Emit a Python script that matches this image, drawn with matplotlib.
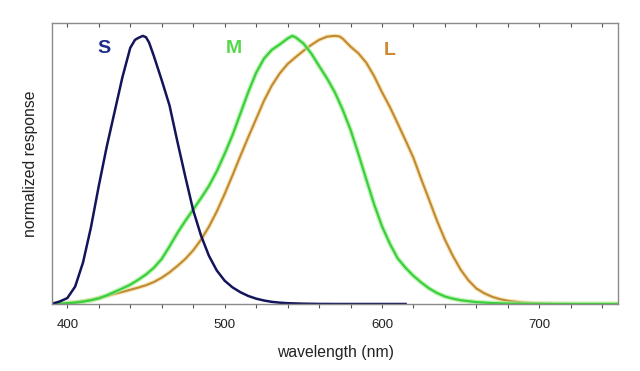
import numpy as np
import matplotlib
matplotlib.use("Agg")
import matplotlib.pyplot as plt
from matplotlib.ticker import MultipleLocator

plt.rcParams['font.family'] = ['Liberation Sans', 'DejaVu Sans']

# S cone
s_nm = [390, 395, 400, 405, 410, 415, 420, 425, 430, 435, 440, 443, 445, 448, 450,
        452, 455, 460, 465, 470, 475, 480, 485, 490, 495, 500, 505, 510, 515, 520,
        525, 530, 535, 540, 550, 560, 570, 615]
s_val = [0.0, 0.009, 0.022, 0.065, 0.155, 0.285, 0.44, 0.585, 0.715, 0.845, 0.955, 0.985, 0.992, 1.0, 0.995,
         0.975, 0.925, 0.835, 0.74, 0.605, 0.475, 0.35, 0.255, 0.18, 0.125, 0.087, 0.062, 0.044, 0.03, 0.02,
         0.013, 0.008, 0.005, 0.003, 0.0012, 0.0003, 0.0, 0.0]

# M cone
m_nm = [390, 395, 400, 405, 410, 415, 420, 425, 430, 435, 440, 445, 450, 455, 460,
        465, 470, 475, 480, 485, 490, 495, 500, 505, 510, 515, 520, 525, 530, 535,
        540, 543, 545, 550, 555, 560, 565, 570, 575, 580, 585, 590, 595, 600, 605,
        610, 615, 620, 625, 630, 635, 640, 645, 650, 660, 670, 680, 690, 700, 710, 750]
m_val = [0.0, 0.001, 0.003, 0.005, 0.009, 0.014, 0.021, 0.032, 0.045, 0.058, 0.072, 0.09, 0.11, 0.135, 0.168,
         0.215, 0.265, 0.31, 0.352, 0.395, 0.44, 0.495, 0.56, 0.63, 0.71, 0.79, 0.862, 0.915, 0.948, 0.968,
         0.99, 1.0, 0.995, 0.972, 0.935, 0.888, 0.842, 0.79, 0.725, 0.65, 0.56, 0.465, 0.372, 0.29, 0.225,
         0.17, 0.135, 0.105, 0.08, 0.058, 0.041, 0.028, 0.02, 0.014, 0.007, 0.0035, 0.0017, 0.0008, 0.0003, 0.0, 0.0]

# L cone
l_nm = [390, 395, 400, 405, 410, 415, 420, 425, 430, 435, 440, 445, 450, 455, 460,
        465, 470, 475, 480, 485, 490, 495, 500, 505, 510, 515, 520, 525, 530, 535,
        540, 545, 550, 555, 560, 565, 570, 573, 575, 580, 585, 590, 595, 600, 605,
        610, 615, 620, 625, 630, 635, 640, 645, 650, 655, 660, 665, 670, 675, 680,
        690, 700, 710, 720, 730, 750]
l_val = [0.0, 0.001, 0.003, 0.006, 0.01, 0.015, 0.022, 0.03, 0.038, 0.045, 0.053, 0.061, 0.07, 0.082, 0.098,
         0.118, 0.142, 0.168, 0.2, 0.24, 0.288, 0.345, 0.41, 0.48, 0.552, 0.622, 0.69, 0.758, 0.815, 0.86,
         0.895, 0.92, 0.944, 0.966, 0.985, 0.997, 1.0, 0.998, 0.99, 0.96, 0.935, 0.9, 0.85, 0.79, 0.735,
         0.673, 0.61, 0.545, 0.465, 0.388, 0.31, 0.24, 0.18, 0.128, 0.088, 0.058, 0.04, 0.027, 0.018, 0.012,
         0.005, 0.002, 0.0008, 0.0002, 0.0, 0.0]

fig = plt.figure(figsize=(6.4, 3.71), dpi=100)
ax = fig.add_axes([0.0813, 0.1806, 0.8843, 0.7574])

# soft halos under the lines
ax.plot(l_nm, l_val, color='#f5d58a', lw=3.2, alpha=0.6, solid_capstyle='round')
ax.plot(l_nm, l_val, color='#c08a35', lw=1.5)
ax.plot(m_nm, m_val, color='#a8f0a0', lw=3.5, alpha=0.7, solid_capstyle='round')
ax.plot(m_nm, m_val, color='#3ccf3c', lw=1.6)
ax.plot(s_nm, s_val, color='#14145a', lw=1.8)

ax.text(423, 0.952, 'S', color='#1c2a8a', fontsize=14, fontweight='bold', ha='center', va='center')
ax.text(506, 0.952, 'M', color='#55d94a', fontsize=14, fontweight='bold', ha='center', va='center')
ax.text(605, 0.945, 'L', color='#cf8a35', fontsize=14, fontweight='bold', ha='center', va='center')

ax.set_xlim(390.3, 750)
ax.set_ylim(0, 1.048)
ax.xaxis.set_major_locator(MultipleLocator(100))
ax.xaxis.set_minor_locator(MultipleLocator(20))
ax.set_yticks([])
ax.tick_params(axis='x', which='both', direction='out', length=3, width=0.8, color='#555555',
               labelsize=9.5, pad=8, labelcolor='#222222', top=False)
for sp in ax.spines.values():
    sp.set_color('#8a8a8a')
    sp.set_linewidth(1.0)

# top ticks point into the plot
sec = ax.secondary_xaxis('top')
sec.xaxis.set_major_locator(MultipleLocator(20))
sec.tick_params(direction='in', length=3, width=0.8, color='#555555', labeltop=False)
sec.spines['top'].set_visible(False)

ax.set_xlabel('wavelength (nm)', fontsize=11.3, color='#222222', labelpad=10)
ax.set_ylabel('normalized response', fontsize=11.3, color='#222222', labelpad=10)

fig.savefig('out.png', dpi=100)
